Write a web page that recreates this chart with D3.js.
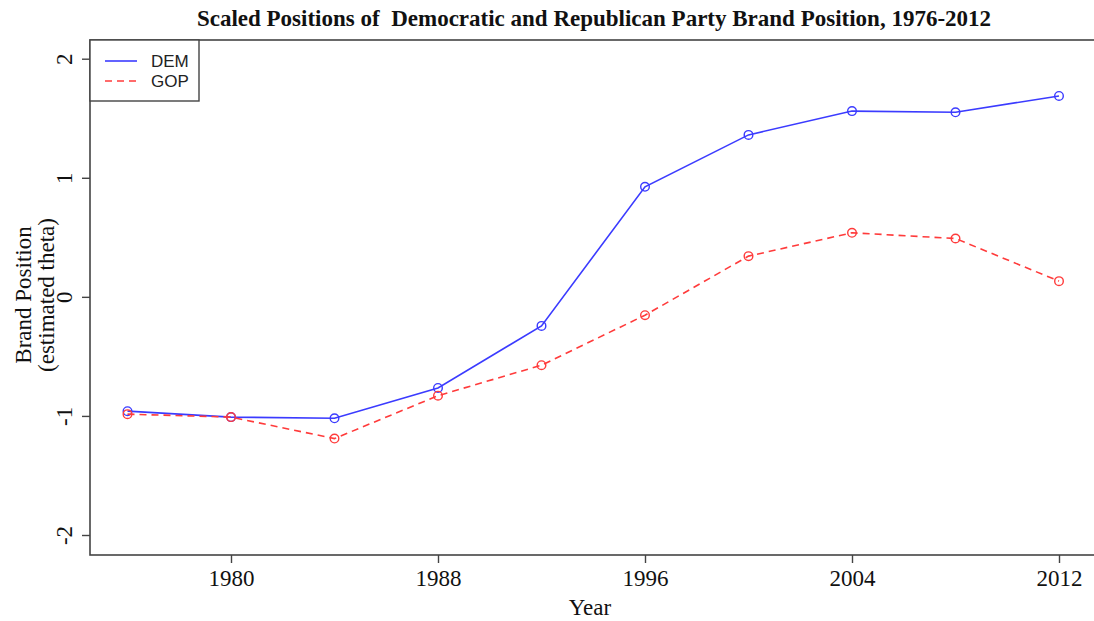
<!DOCTYPE html>
<html>
<head>
<meta charset="utf-8">
<script src="https://cdn.jsdelivr.net/npm/d3@7"></script>
<style>
  html, body { margin: 0; padding: 0; background: #fff; }
  svg { display: block; }
</style>
</head>
<body>
<svg id="chart" width="1094" height="621"></svg>
<script>
// Election years and estimated brand positions for each party
const years = [1976, 1980, 1984, 1988, 1992, 1996, 2000, 2004, 2008, 2012];
const demValues = [-0.96, -1.01, -1.02, -0.765, -0.244, 0.924, 1.36, 1.56, 1.55, 1.687];
const gopValues = [-0.985, -1.01, -1.19, -0.83, -0.574, -0.154, 0.342, 0.538, 0.49, 0.132];
const xTickYears = [1980, 1988, 1996, 2004, 2012];
const yTickValues = [-2, -1, 0, 1, 2];
const seriesNames = ["DEM", "GOP"];

const svg = d3.select("#chart");
const serif = "'Liberation Serif', 'Times New Roman', serif";
const sans = "'Liberation Sans', Arial, sans-serif";
const axisColor = "#444";
const hyphenInt = d => String(d);   // plain hyphen-minus for negative ticks

const plot = { left: 90, right: 1100, top: 40, bottom: 555 };

const x = d3.scaleLinear().domain([1980, 2012]).range([231, 1059]);
const y = d3.scaleLinear().domain([-2, 2]).range([535, 58.7]);

// Plot frame (right edge falls outside the canvas)
svg.append("rect")
  .attr("x", plot.left).attr("y", plot.top)
  .attr("width", plot.right - plot.left).attr("height", plot.bottom - plot.top)
  .attr("fill", "none").attr("stroke", axisColor).attr("stroke-width", 1.6);

// X axis
const xAxis = svg.append("g")
  .attr("transform", `translate(0,${plot.bottom})`)
  .call(d3.axisBottom(x).tickValues(xTickYears).tickFormat(hyphenInt).tickSize(8).tickPadding(7));
xAxis.select(".domain").remove();
xAxis.selectAll("line").attr("stroke", axisColor).attr("stroke-width", 1.4);
xAxis.selectAll("text").attr("font-family", serif).attr("font-size", 23).attr("fill", "#111");

// Y axis with rotated tick labels
const yAxis = svg.append("g")
  .attr("transform", `translate(${plot.left},0)`)
  .call(d3.axisLeft(y).tickValues(yTickValues).tickFormat(hyphenInt).tickSize(8));
yAxis.select(".domain").remove();
yAxis.selectAll("line").attr("stroke", axisColor).attr("stroke-width", 1.4);
yAxis.selectAll("text")
  .attr("font-family", serif).attr("font-size", 23).attr("fill", "#111")
  .attr("x", null).attr("dy", null)
  .attr("text-anchor", "middle")
  .attr("transform", "translate(-18,0) rotate(-90)")
  .attr("y", 0);

// Axis titles
svg.append("text")
  .attr("x", 590).attr("y", 615)
  .attr("text-anchor", "middle")
  .attr("font-family", serif).attr("font-size", 23).attr("fill", "#111")
  .text("Year");

const yTitle = svg.append("text")
  .attr("transform", "translate(0,295) rotate(-90)")
  .attr("text-anchor", "middle")
  .attr("font-family", serif).attr("font-size", 23).attr("fill", "#111");
yTitle.append("tspan").attr("x", 0).attr("y", 31).text("Brand Position");
yTitle.append("tspan").attr("x", 0).attr("y", 54).text("(estimated theta)");

// Chart title
svg.append("text")
  .attr("x", 594).attr("y", 26)
  .attr("text-anchor", "middle")
  .attr("font-family", serif).attr("font-size", 23).attr("font-weight", "bold")
  .attr("fill", "#111")
  .style("white-space", "pre")
  .text("Scaled Positions of  Democratic and Republican Party Brand Position, 1976-2012");

// Series
const series = [
  { name: seriesNames[0], values: demValues, color: "#3b3bff", dash: null },
  { name: seriesNames[1], values: gopValues, color: "#ff3b3b", dash: "7,5" }
];

const line = d3.line().x(d => x(d.year)).y(d => y(d.value));

series.forEach(s => {
  const pts = years.map((yr, i) => ({ year: yr, value: s.values[i] }));
  svg.append("path")
    .datum(pts)
    .attr("d", line)
    .attr("fill", "none")
    .attr("stroke", s.color)
    .attr("stroke-width", 1.6)
    .attr("stroke-dasharray", s.dash);
  svg.append("g").selectAll("circle")
    .data(pts)
    .join("circle")
    .attr("cx", d => x(d.year))
    .attr("cy", d => y(d.value))
    .attr("r", 4.3)
    .attr("fill", "none")
    .attr("stroke", s.color)
    .attr("stroke-width", 1.4);
});

// Legend box
const legend = svg.append("g");
legend.append("rect")
  .attr("x", 90).attr("y", 40).attr("width", 109).attr("height", 61)
  .attr("fill", "#fff").attr("stroke", axisColor).attr("stroke-width", 1.4);
series.forEach((s, i) => {
  const ly = 61 + i * 20;
  legend.append("line")
    .attr("x1", 105).attr("x2", 137).attr("y1", ly).attr("y2", ly)
    .attr("stroke", s.color).attr("stroke-width", 1.6)
    .attr("stroke-dasharray", s.dash);
  legend.append("text")
    .attr("x", 151).attr("y", ly + 6)
    .attr("font-family", sans).attr("font-size", 17).attr("fill", "#222")
    .text(s.name);
});
</script>
</body>
</html>
